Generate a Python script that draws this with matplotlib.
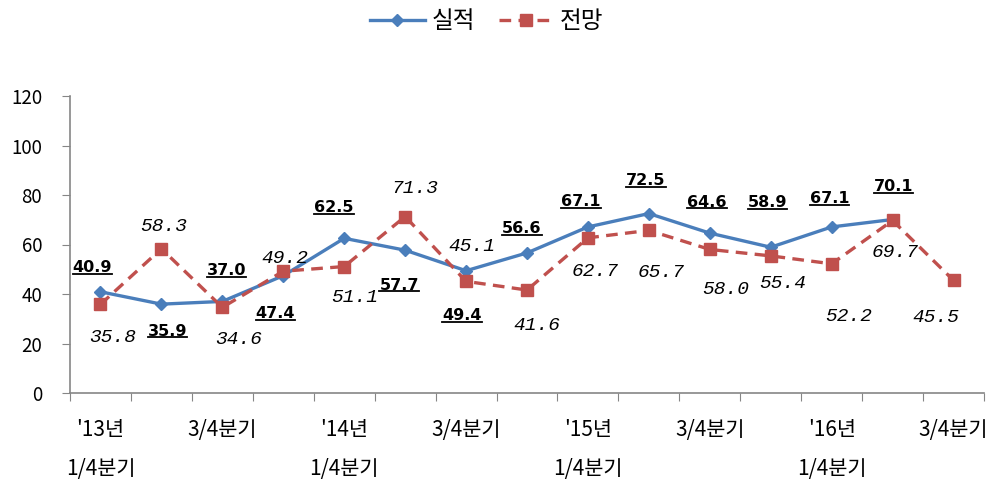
import matplotlib
matplotlib.use('Agg')

import matplotlib.pyplot as plt
from matplotlib.lines import Line2D

plt.rcParams['font.family'] = ['Noto Sans CJK KR', 'DejaVu Sans']

# data
actual = [40.9, 35.9, 37.0, 47.4, 62.5, 57.7, 49.4, 56.6, 67.1, 72.5, 64.6, 58.9, 67.1, 70.1]
forecast = [35.8, 58.3, 34.6, 49.2, 51.1, 71.3, 45.1, 41.6, 62.7, 65.7, 58.0, 55.4, 52.2, 69.7, 45.5]
tick_labels = ["'13년\n1/4분기", '', '3/4분기', '',
               "'14년\n1/4분기", '', '3/4분기', '',
               "'15년\n1/4분기", '', '3/4분기', '',
               "'16년\n1/4분기", '', '3/4분기']
series_names = ['실적', '전망']

# label offsets in pixels (dx, dy down)
act_off = [(-8, -24), (6, 27), (4, -31), (-8, 38), (-10, -31), (-6, 35), (-4, 45),
           (-5, -24), (-7, -25), (-3, -33), (-3, -31), (-3, -45), (-2, -28), (1, -33)]
fc_off = [(12, 33), (2, -22), (16, 32), (2, -13), (11, 31), (10, -28), (6, -35),
          (10, 35), (7, 34), (12, 42), (16, 40), (12, 28), (17, 53), (2, 32), (-18, 37)]

BLUE = '#4A7EBB'
RED = '#C0504D'
GRAY = '#868686'

W, H = 998, 484
fig = plt.figure(figsize=(W / 100, H / 100), dpi=100)
ax = fig.add_axes([70 / W, 91 / H, 914 / W, 297 / H])

xa = list(range(len(actual)))
xf = list(range(len(forecast)))

ax.plot(xa, actual, color=BLUE, lw=2.4, marker='D', ms=6, mec=BLUE, mfc=BLUE,
        label=series_names[0], zorder=3)
ax.plot(xf, forecast, color=RED, lw=2.4, ls=(0, (3.5, 2.2)), marker='s', ms=8.5,
        mec=RED, mfc=RED, label=series_names[1], zorder=4)

ax.set_xlim(-0.5, len(forecast) - 0.5)
ax.set_ylim(0, 120)
ax.set_yticks(range(0, 121, 20))

# ticks at category boundaries, labels at centres
ax.set_xticks([i - 0.5 for i in range(len(forecast) + 1)])
ax.set_xticklabels([])
ax.set_xticks(xf, minor=True)
ax.set_xticklabels(tick_labels, minor=True, fontsize=15, linespacing=1.95, va='top')
ax.tick_params(axis='x', which='major', length=6, color=GRAY, direction='out')
ax.tick_params(axis='x', which='minor', length=0, pad=19)
ax.tick_params(axis='y', length=6, color=GRAY, direction='out', pad=14, labelsize=13.5)

for s in ['top', 'right']:
    ax.spines[s].set_visible(False)
for s in ['left', 'bottom']:
    ax.spines[s].set_color(GRAY)
    ax.spines[s].set_linewidth(1.2)

bold_texts = []
for i, v in enumerate(actual):
    dx, dy = act_off[i]
    t = ax.annotate(f'{v:.1f}', (i, v), xytext=(dx, -dy), textcoords='offset pixels',
                    ha='center', va='center', fontsize=11.5, fontweight='bold',
                    family='DejaVu Sans', color='black', zorder=5)
    bold_texts.append(t)

for i, v in enumerate(forecast):
    dx, dy = fc_off[i]
    ax.annotate(f'{v:.1f}', (i, v), xytext=(dx, -dy), textcoords='offset pixels',
                ha='center', va='center', fontsize=14, style='italic',
                family='Liberation Mono', color='black', zorder=5)

fig.legend(loc='center', bbox_to_anchor=(0.488, 1 - 22 / H), ncol=2, frameon=False,
           fontsize=17, handlelength=2.3, columnspacing=1.0, handletextpad=0.3)

# underline the bold labels
fig.canvas.draw()
for t in bold_texts:
    bb = t.get_window_extent()
    y = bb.y0 + 1.2
    fig.add_artist(Line2D([bb.x0 / W, bb.x1 / W], [y / H, y / H],
                          transform=fig.transFigure, color='black', lw=1.3))

fig.savefig('out.png', dpi=100)
